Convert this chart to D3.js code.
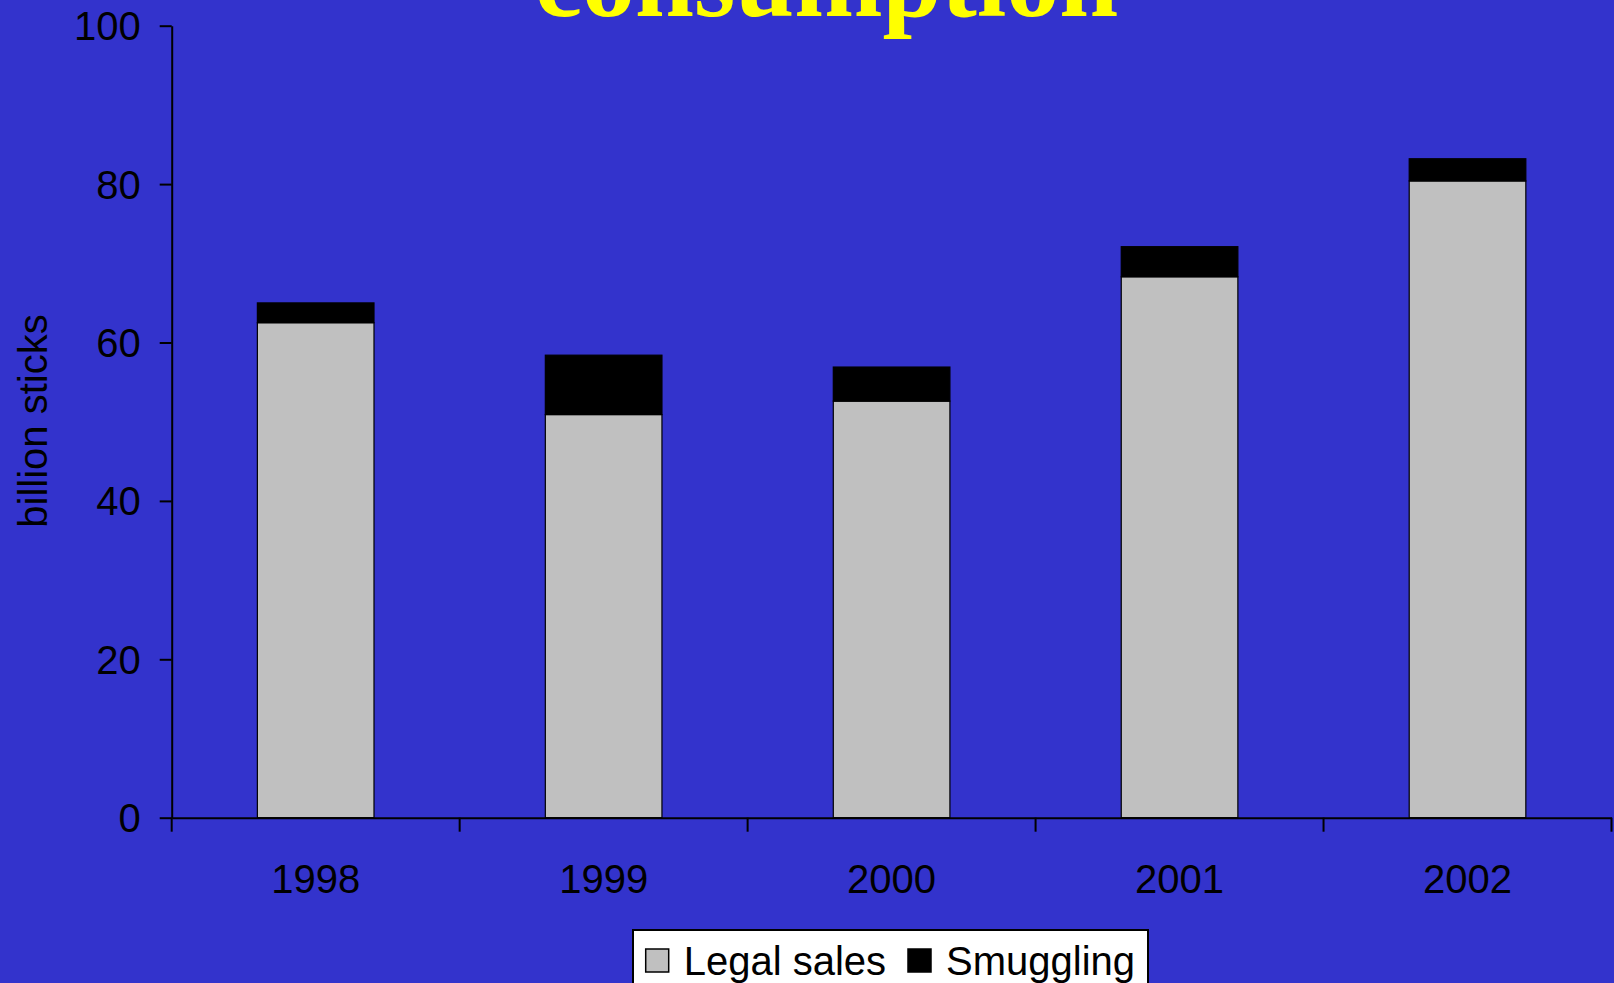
<!DOCTYPE html>
<html>
<head>
    <title>Cigarette consumption</title>
    <script src="https://d3js.org/d3.v7.min.js"></script>
    <style>
        body { margin: 0; background: #3333cc; }
        text { font-family: "Liberation Sans", Arial, sans-serif; fill: #000; }
    </style>
</head>
<body>
    <svg id="chart" width="1614" height="983"></svg>

    <script>
        // values (billion sticks)
        const years = ['1998', '1999', '2000', '2001', '2002'];
        const legalSales = [62.5, 50.9, 52.6, 68.3, 80.4];
        const smuggling = [2.5, 7.5, 4.3, 3.8, 2.8];
        const yTicks = [0, 20, 40, 60, 80, 100];
        const seriesNames = ['Legal sales', 'Smuggling'];
        const seriesColors = ['#c0c0c0', '#000000'];

        const svg = d3.select('#chart');

        svg.append('rect')
            .attr('width', 1614).attr('height', 983)
            .attr('fill', '#3333cc');

        // title (only the second line shows, the rest runs off the top as in the original)
        svg.append('text')
            .attr('x', 826.5).attr('y', 15.7)
            .attr('text-anchor', 'middle')
            .style('font-family', '"Liberation Serif", "Times New Roman", serif')
            .style('font-weight', 'bold')
            .style('font-size', '106px')
            .style('fill', '#ffff00')
            .text('consumption');

        const x0 = 171.7, x1 = 1611.5;
        const yScale = d3.scaleLinear().domain([0, 100]).range([817.7, 25.7]);
        const xScale = d3.scaleBand()
            .domain(years)
            .range([x0, x1])
            .paddingInner(0.595)
            .paddingOuter(0.2975);

        // stacked data
        const rows = years.map((y, i) => ({ year: y, legal: legalSales[i], smuggling: smuggling[i] }));
        const stack = d3.stack().keys(['legal', 'smuggling'])(rows);

        svg.append('g')
            .selectAll('g')
            .data(stack)
            .join('g')
            .attr('fill', (d, i) => seriesColors[i])
            .selectAll('rect')
            .data(d => d)
            .join('rect')
            .attr('x', d => xScale(d.data.year))
            .attr('y', d => yScale(d[1]))
            .attr('width', xScale.bandwidth())
            .attr('height', d => yScale(d[0]) - yScale(d[1]))
            .attr('stroke', '#000')
            .attr('stroke-width', 1.2);

        // y axis
        const yAxis = svg.append('g')
            .attr('transform', `translate(${x0},0)`)
            .call(d3.axisLeft(yScale).tickValues(yTicks).tickSize(12).tickPadding(19).tickSizeOuter(0));
        yAxis.select('.domain').attr('stroke', '#000').attr('stroke-width', 2);
        yAxis.selectAll('.tick line').attr('stroke', '#000').attr('stroke-width', 2);
        yAxis.selectAll('.tick text')
            .style('font-size', '40px')
            .attr('dy', '0.35em');

        // x axis: labels centred in bands, ticks on band boundaries
        const xAxis = svg.append('g')
            .attr('transform', `translate(0,${yScale(0)})`)
            .call(d3.axisBottom(xScale).tickSize(0).tickPadding(0).tickSizeOuter(0));
        xAxis.select('.domain').attr('stroke', '#000').attr('stroke-width', 2);
        xAxis.selectAll('.tick text')
            .style('font-size', '40px')
            .attr('dy', null)
            .attr('y', 75.5);

        const step = xScale.step();
        xAxis.selectAll('line.bound')
            .data(d3.range(years.length + 1))
            .join('line')
            .attr('class', 'bound')
            .attr('x1', i => x0 + i * step)
            .attr('x2', i => x0 + i * step)
            .attr('y1', 0).attr('y2', 14)
            .attr('stroke', '#000')
            .attr('stroke-width', 2);

        // y axis title
        svg.append('text')
            .attr('transform', 'translate(47,421) rotate(-90)')
            .attr('text-anchor', 'middle')
            .style('font-size', '40px')
            .text('billion sticks');

        // legend
        const legend = svg.append('g');
        legend.append('rect')
            .attr('x', 633).attr('y', 930)
            .attr('width', 515).attr('height', 80)
            .attr('fill', '#fff')
            .attr('stroke', '#000')
            .attr('stroke-width', 2);

        const legendX = [645.7, 908];
        legend.selectAll('g.item')
            .data(seriesNames)
            .join('g')
            .attr('class', 'item')
            .each(function (name, i) {
                const g = d3.select(this);
                g.append('rect')
                    .attr('x', legendX[i]).attr('y', 949)
                    .attr('width', 23).attr('height', 23)
                    .attr('fill', seriesColors[i])
                    .attr('stroke', '#000')
                    .attr('stroke-width', 1.5);
                g.append('text')
                    .attr('x', legendX[i] + 38).attr('y', 975)
                    .style('font-size', '40px')
                    .text(name);
            });
    </script>
</body>
</html>
